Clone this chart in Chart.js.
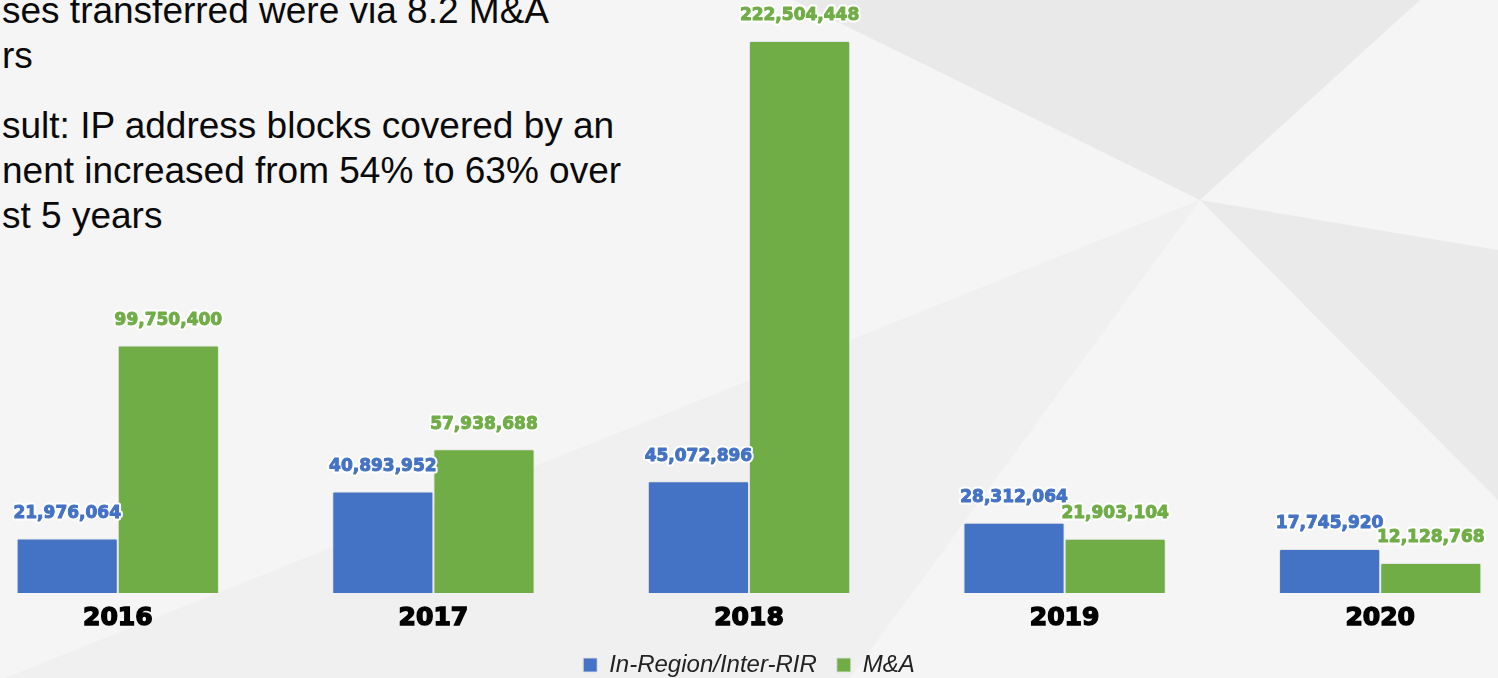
<!DOCTYPE html>
<html>
<head>
<meta charset="utf-8">
<script src="https://cdn.jsdelivr.net/npm/chart.js@4.4.0/dist/chart.umd.min.js"></script>
<style>
  html, body { margin: 0; padding: 0; width: 1498px; height: 678px; overflow: hidden; background: #f5f5f5; }
  #bg { position: absolute; left: 0; top: 0; width: 1498px; height: 678px; }
  #notes { position: absolute; left: 2px; top: -12px; font-family: "Liberation Sans", Arial, sans-serif; font-size: 37px; line-height: 45px; color: #0a0a0a; white-space: nowrap; }
  #notes p { margin: 0; }
  #notes p + p { margin-top: 25px; }
  #wrap { position: absolute; left: -40px; top: 0; width: 1578px; height: 687px; }
</style>
</head>
<body>
<svg id="bg" viewBox="0 0 1498 678" xmlns="http://www.w3.org/2000/svg">
  <polygon points="793,0 1200,200 1420,0" fill="#e9e9e9"/>
  <polygon points="1200,200 1498,250 1498,500" fill="#eaeaea"/>
  <polygon points="1200,200 0,680 850,678" fill="#f0f0f0"/>
</svg>
<div id="notes">
  <p>ses transferred were via 8.2 M&amp;A<br>rs</p>
  <p>sult: IP address blocks covered by an<br>nent increased from 54% to 63% over<br>st 5 years</p>
</div>
<div id="wrap"><canvas id="c"></canvas></div>
<script>
const categories = ["2016", "2017", "2018", "2019", "2020"];
const inRegionValues = [21976064, 40893952, 45072896, 28312064, 17745920];
const mnaValues = [99750400, 57938688, 222504448, 21903104, 12128768];
const seriesNames = ["In-Region/Inter-RIR", "M&A"];
const seriesColors = ["#4472C4", "#70AD47"];

const valueLabels = {
  id: 'valueLabels',
  afterDatasetsDraw(chart) {
    const ctx = chart.ctx;
    ctx.save();
    ctx.font = 'bold 17px "DejaVu Sans", Verdana, sans-serif';
    ctx.textAlign = 'center';
    ctx.textBaseline = 'middle';
    ctx.lineJoin = 'round';
    chart.data.datasets.forEach((ds, i) => {
      const meta = chart.getDatasetMeta(i);
      meta.data.forEach((bar, j) => {
        const txt = ds.data[j].toLocaleString('en-US');
        const y = bar.y - 25;
        ctx.lineWidth = 5;
        ctx.strokeStyle = '#ffffff';
        ctx.strokeText(txt, bar.x, y);
        ctx.lineWidth = 1;
        ctx.strokeStyle = seriesColors[i];
        ctx.strokeText(txt, bar.x, y);
        ctx.fillStyle = seriesColors[i];
        ctx.fillText(txt, bar.x, y);
      });
    });
    ctx.restore();
  }
};

new Chart(document.getElementById('c'), {
  type: 'bar',
  data: {
    labels: categories,
    datasets: [
      { label: seriesNames[0], data: inRegionValues, backgroundColor: seriesColors[0],
        borderColor: 'rgba(225,225,225,0.9)', borderWidth: 1, borderRadius: 2, borderSkipped: 'bottom',
        categoryPercentage: 0.641, barPercentage: 1.0 },
      { label: seriesNames[1], data: mnaValues, backgroundColor: seriesColors[1],
        borderColor: 'rgba(225,225,225,0.9)', borderWidth: 1, borderRadius: 2, borderSkipped: 'bottom',
        categoryPercentage: 0.641, barPercentage: 1.0 }
    ]
  },
  options: {
    responsive: true,
    maintainAspectRatio: false,
    animation: false,
    layout: { padding: 0 },
    scales: {
      x: {
        grid: { display: false, drawTicks: false },
        border: { display: false },
        ticks: { color: '#000', padding: 10, textStrokeColor: '#000', textStrokeWidth: 1.5,
                 font: { family: '"DejaVu Sans", Verdana, sans-serif', size: 25, weight: 'bold' } },
        afterFit(scale) { scale.height = 40; }
      },
      y: { display: false, min: 0, max: 239000000 }
    },
    plugins: {
      tooltip: { enabled: false },
      legend: {
        position: 'bottom',
        labels: {
          boxWidth: 14, boxHeight: 14, padding: 20, color: '#222',
          font: { family: '"Liberation Sans", Arial, sans-serif', size: 24, style: 'italic' }
        }
      }
    }
  },
  plugins: [valueLabels]
});
</script>
</body>
</html>
